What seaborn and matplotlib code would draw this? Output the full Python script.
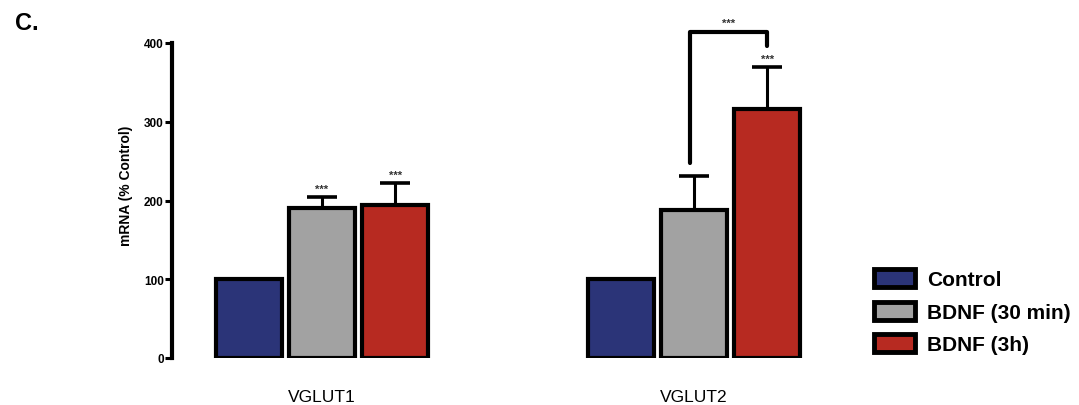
import matplotlib
matplotlib.use("Agg")
import matplotlib.pyplot as plt
import seaborn as sns
import pandas as pd
import numpy as np

# ---- data ----
genes = ["VGLUT1", "VGLUT2"]
conditions = ["Control", "BDNF (30 min)", "BDNF (3h)"]
vglut1_means = [100, 190, 194]
vglut2_means = [100, 188, 316]
vglut1_sem = [0, 15, 28]
vglut2_sem = [0, 43, 54]
yticks = [0, 100, 200, 300, 400]
bar_stars = ["", "***", "***"]            # per condition for VGLUT1
bar_stars_v2 = ["", "", "***"]            # per condition for VGLUT2
bracket_levels = [248, 414, 414, 396]     # bracket gray->red VGLUT2
bracket_label = "***"
colors = ["#2B3478", "#A2A2A2", "#B72A21"]

sns.set_theme(style="ticks")
plt.rcParams["font.family"] = ["Liberation Sans", "DejaVu Sans"]
for k in ["text.color", "axes.labelcolor", "xtick.color", "ytick.color", "axes.edgecolor"]:
    plt.rcParams[k] = "black"

rows = []
for g, means in zip(genes, [vglut1_means, vglut2_means]):
    for c, m in zip(conditions, means):
        rows.append({"gene": g, "condition": c, "value": m})
df = pd.DataFrame(rows)

fig = plt.figure(figsize=(10.79, 4.06), dpi=100)
ax = fig.add_axes([172 / 1079, 47 / 406, (840 - 172) / 1079, 346.5 / 406])

sns.barplot(data=df, x="gene", y="value", hue="condition", hue_order=conditions,
            order=genes, palette=colors, width=0.59, gap=0.1, errorbar=None,
            edgecolor="black", linewidth=3.0, saturation=1, ax=ax)

sems = [vglut1_sem, vglut2_sem]
stars = [bar_stars, bar_stars_v2]
centers = {}
bar_containers = list(ax.containers)
for i, cont in enumerate(bar_containers):
    for j, bar in enumerate(cont.patches):
        xc = bar.get_x() + bar.get_width() / 2
        h = bar.get_height()
        centers[(j, i)] = xc
        err = sems[j][i]
        if err > 0:
            ax.errorbar([xc], [h], yerr=[[0], [err]], fmt="none", ecolor="black",
                        elinewidth=2.2, capsize=11, capthick=2.6, zorder=1)
        s = stars[j][i]
        if s:
            ax.text(xc, h + err + 4, s, ha="center", va="bottom", fontsize=8,
                    fontweight="bold", color="#333333")

# bracket between BDNF 30 min and 3h for VGLUT2
bx = [centers[(1, 1)] - 0.01, centers[(1, 1)] - 0.01, centers[(1, 2)], centers[(1, 2)]]
ax.plot(bx, bracket_levels, color="black", lw=3.0, solid_capstyle="round",
        solid_joinstyle="round", clip_on=False)
ax.text((bx[0] + bx[2]) / 2, bracket_levels[1] + 5, bracket_label, ha="center",
        va="bottom", fontsize=8, fontweight="bold", color="#333333")

ax.set_xlim(-0.403, 1.392)
ax.set_ylim(0, 440)
ax.set_yticks(yticks)
ax.set_yticklabels([str(t) for t in yticks], fontsize=8.5, fontweight="bold")
ax.tick_params(axis="y", length=5, width=2.2, pad=1, direction="out")
ax.tick_params(axis="x", length=0, pad=22, labelsize=12.5)
ax.set_xlabel("")
ax.set_ylabel("mRNA (% Control)", fontsize=10, fontweight="bold", labelpad=8)
for side in ["top", "right", "bottom"]:
    ax.spines[side].set_visible(False)
ax.spines["left"].set_linewidth(3)
ax.spines["left"].set_bounds(0, 400)

handles, labels = ax.get_legend_handles_labels()
if ax.get_legend() is not None:
    ax.get_legend().remove()
for h in handles:
    h.set_edgecolor("black")
    h.set_linewidth(3.5)
fig.legend(handles, labels, loc="upper left", bbox_to_anchor=(874 / 1079, 1 - 270 / 406),
           frameon=False, prop={"size": 15, "weight": "bold"}, handlelength=1.95,
           handleheight=0.95, handletextpad=0.6, labelspacing=0.6, borderpad=0,
           borderaxespad=0)

fig.text(15 / 1079, 1 - 24 / 406, "C.", fontsize=17, fontweight="bold", va="center", ha="left")

fig.savefig("out.png", dpi=100, facecolor="white")
